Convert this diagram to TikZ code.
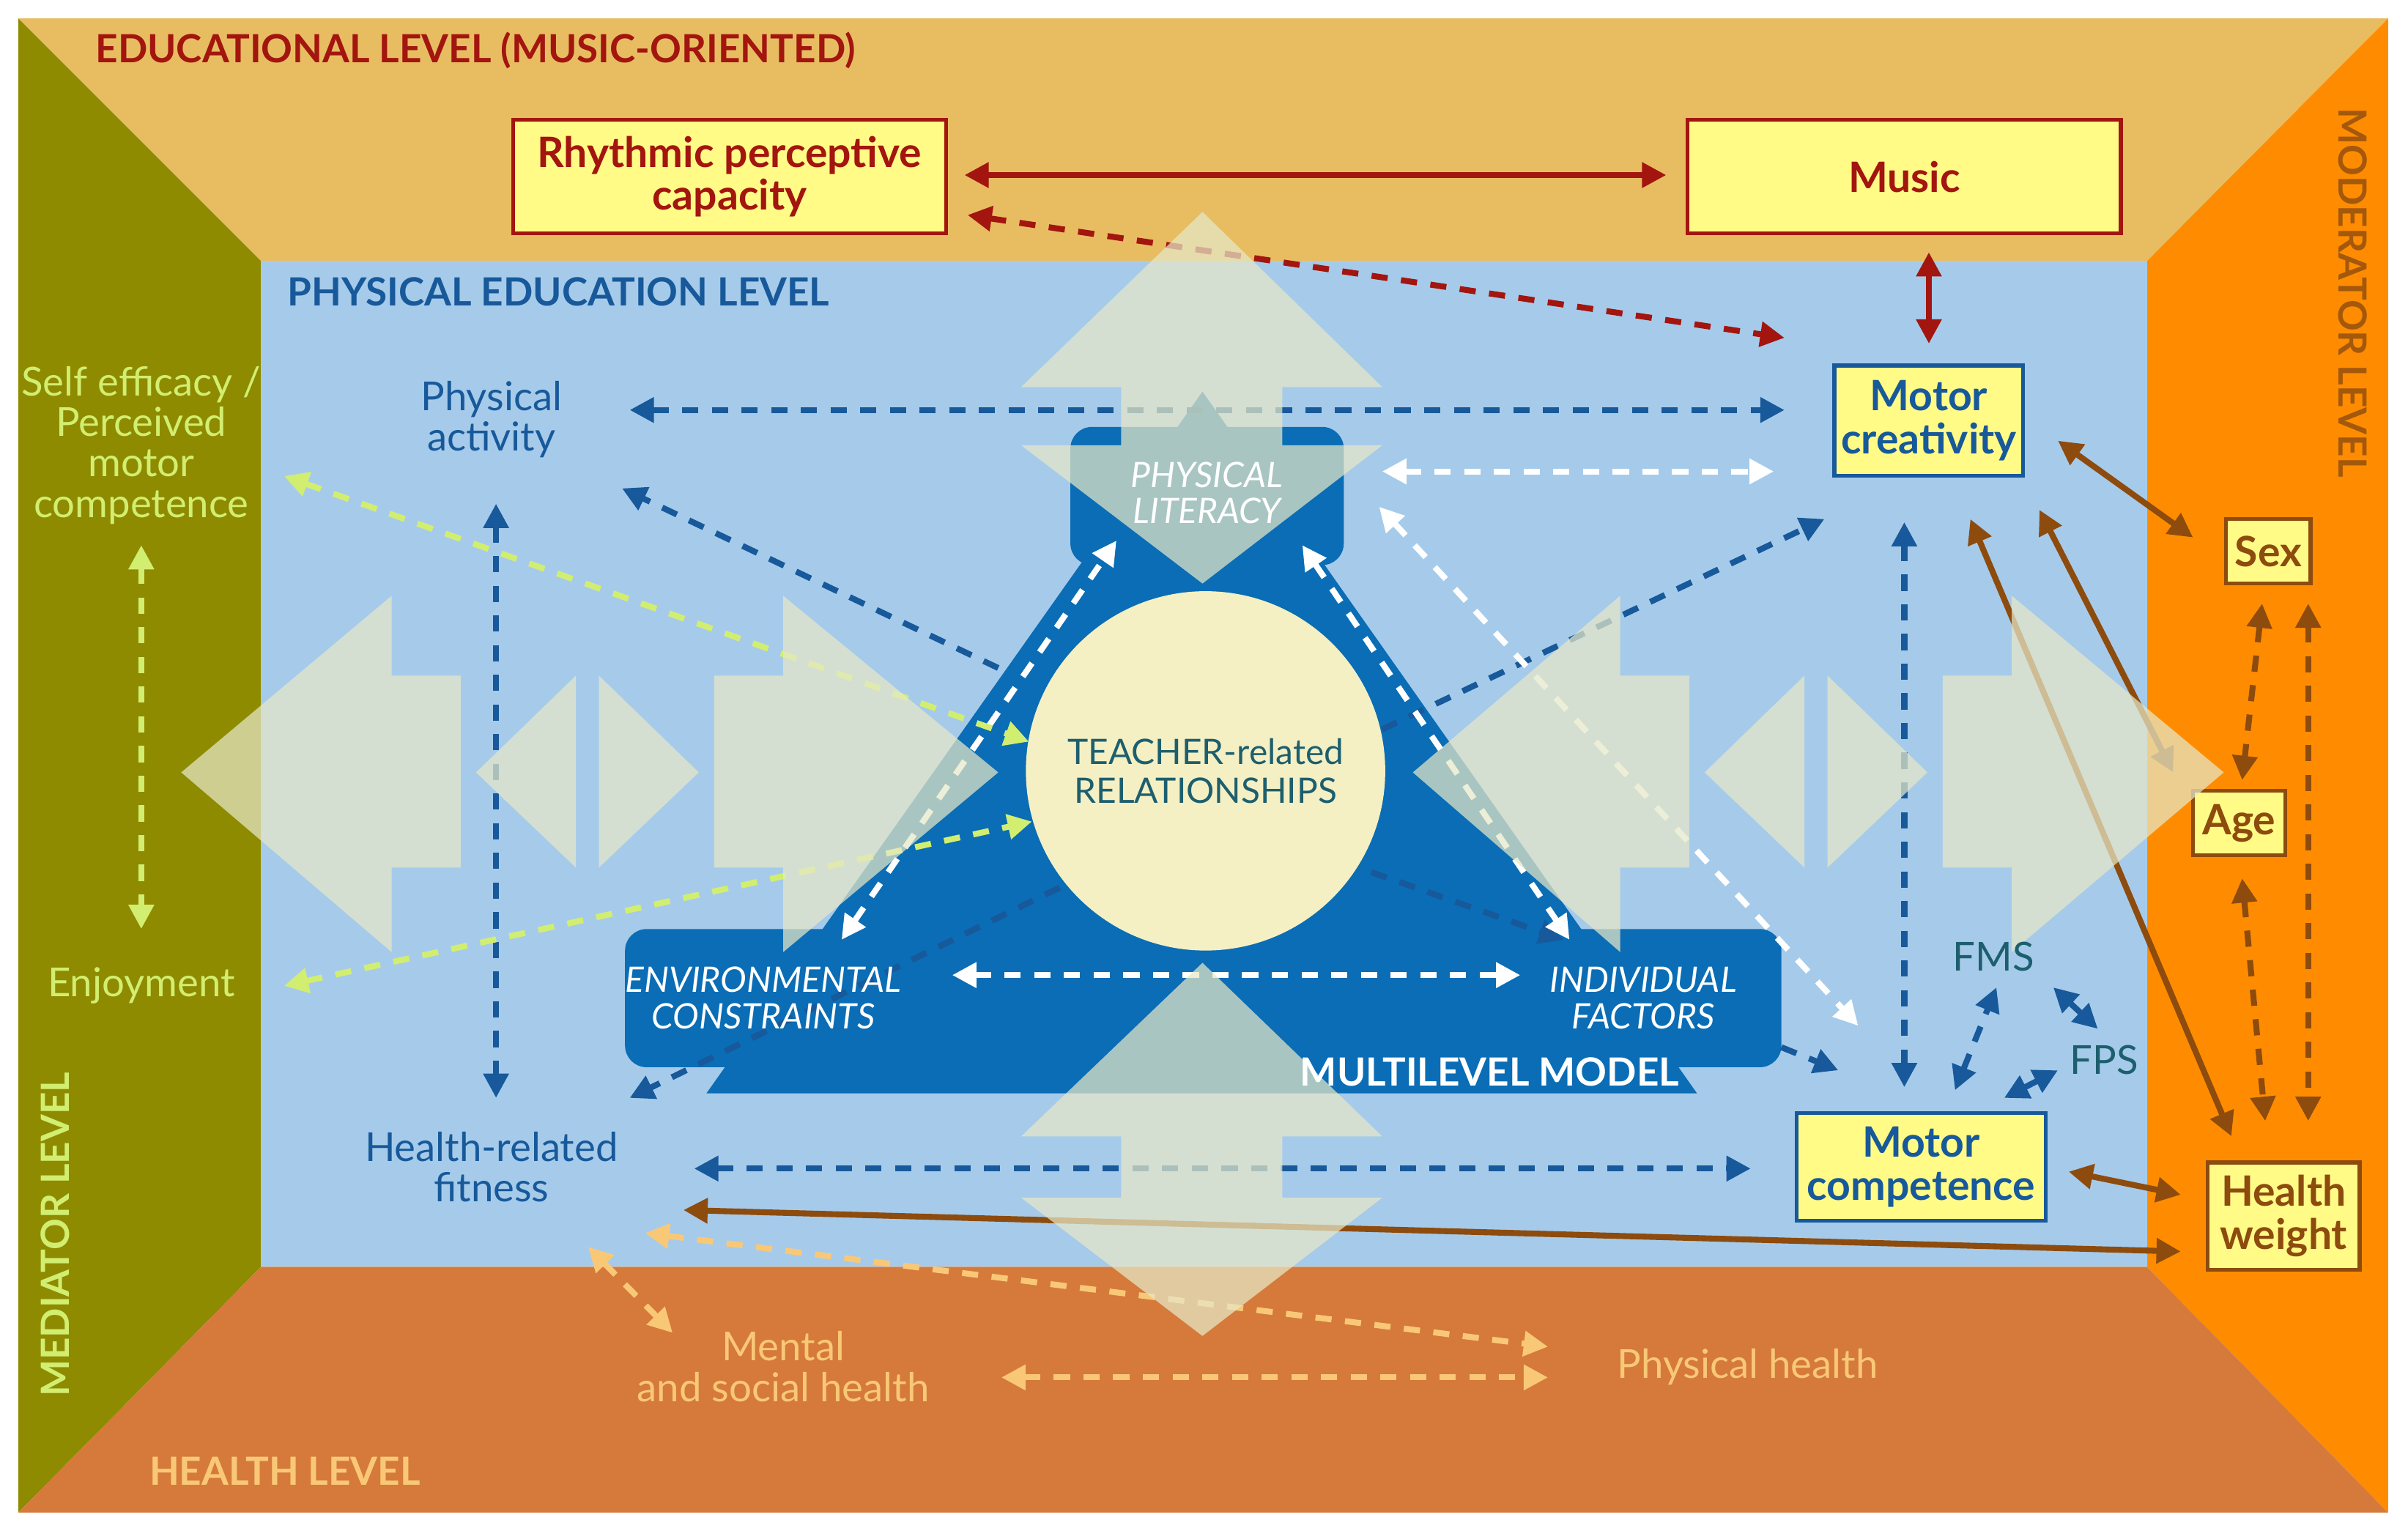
\documentclass[tikz,border=0pt]{standalone}
\usepackage{fontspec}
\setmainfont{Lato}
\usetikzlibrary{arrows.meta,positioning}
\definecolor{eduback}{HTML}{E8BD62}
\definecolor{medback}{HTML}{8E8B00}
\definecolor{modback}{HTML}{FF8C00}
\definecolor{healthback}{HTML}{D57A3A}
\definecolor{peback}{HTML}{A6CBEA}
\definecolor{modelblue}{HTML}{0A6DB5}
\definecolor{circfill}{HTML}{F4F0C4}
\definecolor{overfill}{HTML}{E6E8C8}
\definecolor{boxfill}{HTML}{FFFB86}
\definecolor{darkred}{HTML}{A3150F}
\definecolor{peblue}{HTML}{17599A}
\definecolor{brownline}{HTML}{8D4B0E}
\definecolor{lightgreen}{HTML}{D2EE70}
\definecolor{lightorange}{HTML}{F9C877}
\definecolor{tealtext}{HTML}{1D5F6E}

\begin{document}
\begin{tikzpicture}[x=0.02cm,y=-0.02cm,
    txt/.style={font=\fontsize{14.8}{15}\selectfont,align=center,inner sep=1pt},
    head/.style={font=\fontsize{14.4}{16}\selectfont\bfseries,inner sep=0pt},
    ital/.style={font=\fontsize{13}{13.5}\selectfont\itshape,align=center,text=white,inner sep=1pt},
    box/.style={draw,line width=1.4pt,fill=boxfill,align=center,font=\fontsize{15.5}{16}\selectfont\bfseries,inner sep=2pt},
    over/.style={fill=overfill,fill opacity=0.72,draw=none},
    tip/.style={-{Triangle[length=9pt,width=9pt]}},
    both/.style={{Triangle[length=9pt,width=9pt]}-{Triangle[length=9pt,width=9pt]}},
    dsh/.style={line width=2.2pt,dash pattern=on 6pt off 5pt},
    solid arrow/.style={line width=2.2pt,both}]
\useasboundingbox (0,0) rectangle (1568,995);
% level backgrounds
\fill[eduback] (12,12) -- (1555,12) -- (1398,170) -- (170,170) -- cycle;
\fill[medback] (12,12) -- (170,170) -- (170,825) -- (12,985) -- cycle;
\fill[modback] (1555,12) -- (1555,985) -- (1398,825) -- (1398,170) -- cycle;
\fill[healthback] (12,985) -- (1555,985) -- (1398,825) -- (170,825) -- cycle;
\fill[peback] (170,170) rectangle (1398,825);
% multilevel model
\fill[modelblue] (783,255) -- (1105,712) -- (460,712) -- cycle;
\fill[modelblue,rounded corners=8pt] (697,278) rectangle (875,368);
\fill[modelblue,rounded corners=8pt] (407,605) rectangle (1160,695);
\fill[circfill] (785,502) circle (117);
% boxes
\node[box,draw=darkred,text=darkred,minimum width=282*0.02cm,minimum height=74*0.02cm] (rpc) at (475,115) {Rhythmic perceptive\\capacity};
\node[box,draw=darkred,text=darkred,minimum width=282*0.02cm,minimum height=74*0.02cm] (music) at (1240,115) {Music};
\node[box,draw=peblue,text=peblue,minimum width=123*0.02cm,minimum height=72*0.02cm] (mcre) at (1256,274) {Motor\\creativity};
\node[box,draw=peblue,text=peblue,minimum width=162*0.02cm,minimum height=70*0.02cm] (mcomp) at (1251,760) {Motor\\competence};
\node[box,draw=brownline,text=brownline,minimum width=55*0.02cm,minimum height=42*0.02cm] (sex) at (1477,359) {Sex};
\node[box,draw=brownline,text=brownline,minimum width=60*0.02cm,minimum height=42*0.02cm] (age) at (1458,536) {Age};
\node[box,draw=brownline,text=brownline,minimum width=99*0.02cm,minimum height=70*0.02cm] (hw) at (1487,792) {Health\\weight};
% educational level arrows
\draw[darkred,solid arrow] (628,114) -- (1085,114);
\draw[darkred,dsh,both] (630,140) -- (1162,220);
\draw[darkred,solid arrow,shorten <=11*0.02cm,shorten >=13*0.02cm] (music.south -| mcre) -- (mcre.north);
% physical education level
\draw[peblue,dsh,both] (410,267) -- (1162,267);
\draw[peblue,dsh,both] (323,328) -- (323,715);
\draw[peblue,dsh,both] (452,761) -- (1140,761);
\draw[peblue,dsh,both] (1240,340) -- (1240,708);
\draw[peblue,dsh,tip] (650,435) -- (405,318);
\draw[peblue,dsh,tip] (900,475) -- (1188,338);
\draw[peblue,dsh,tip] (893,568) -- (1018,612);
\draw[peblue,dsh,tip] (690,578) -- (410,715);
\draw[peblue,dsh,tip] (1160,682) -- (1197,697);
\draw[peblue,dsh,both] (1273,710) -- (1300,643);
\draw[peblue,dsh,both] (1337,643) -- (1366,670);
\draw[peblue,dsh,both] (1305,715) -- (1340,697);
\draw[white,dsh,both] (900,307) -- (1155,307);
\draw[white,dsh,both] (898,330) -- (1210,668);
\draw[white,dsh,both] (548,612) -- (727,352);
\draw[white,dsh,both] (848,355) -- (1022,612);
\draw[white,dsh,both] (620,635) -- (990,635);
% mediator and moderator arrows
\draw[lightgreen,dsh,both] (185,310) -- (670,483);
\draw[lightgreen,dsh,both] (185,642) -- (672,535);
\draw[lightgreen,dsh,both] (92,355) -- (92,605);
\draw[brownline,solid arrow] (1340,287) -- (1428,350);
\draw[brownline,solid arrow] (1328,332) -- (1415,503);
\draw[brownline,solid arrow] (1283,338) -- (1453,740);
\draw[brownline,solid arrow] (1347,763) -- (1420,778);
\draw[brownline,solid arrow] (445,788) -- (1420,815);
\draw[brownline,dsh,both] (1473,393) -- (1460,508);
\draw[brownline,dsh,both] (1503,393) -- (1503,730);
\draw[brownline,dsh,both] (1460,572) -- (1475,730);
\draw[lightorange,dsh,both] (383,812) -- (438,868);
\draw[lightorange,dsh,both] (420,803) -- (1008,877);
\draw[lightorange,dsh,both] (652,897) -- (1008,897);
% translucent arrows
\fill[over] (118,503) -- (255,388) -- (255,440) -- (300,440) -- (300,565) -- (255,565) -- (255,620) -- cycle;
\fill[over] (310,503) -- (375,440) -- (375,565) -- cycle;
\fill[over] (390,440) -- (455,503) -- (390,565) -- cycle;
\fill[over] (465,440) -- (510,440) -- (510,388) -- (650,503) -- (510,620) -- (510,565) -- (465,565) -- cycle;
\fill[over] (920,503) -- (1055,388) -- (1055,440) -- (1100,440) -- (1100,565) -- (1055,565) -- (1055,620) -- cycle;
\fill[over] (1110,503) -- (1175,440) -- (1175,565) -- cycle;
\fill[over] (1190,440) -- (1255,503) -- (1190,565) -- cycle;
\fill[over] (1265,440) -- (1310,440) -- (1310,388) -- (1448,503) -- (1310,620) -- (1310,565) -- (1265,565) -- cycle;
\fill[over] (783,138) -- (900,252) -- (835,252) -- (835,290) -- (900,290) -- (783,380) -- (665,290) -- (730,290) -- (730,252) -- (665,252) -- cycle;
\fill[over] (783,627) -- (900,740) -- (835,740) -- (835,780) -- (900,780) -- (783,870) -- (665,780) -- (730,780) -- (730,740) -- (665,740) -- cycle;
% texts
\node[head,text=darkred,anchor=west] (edu) at (62,33) {EDUCATIONAL LEVEL (MUSIC-ORIENTED)};
\node[head,text=peblue,anchor=west] (pel) at (187,190) {PHYSICAL EDUCATION LEVEL};
\node[head,text=brownline!80!modback,rotate=-90,anchor=west] (mod) at (1532,70) {MODERATOR LEVEL};
\node[head,text=lightgreen,rotate=90,anchor=west] (med) at (36,910) {MEDIATOR LEVEL};
\node[head,text=lightorange,anchor=west] (hl) at (97,958) {HEALTH LEVEL};
\node[txt,text=lightgreen] (self) at (92,290) {Self efficacy /\\Perceived\\motor\\competence};
\node[txt,text=lightgreen] (enj) at (92,642) {Enjoyment};
\node[txt,text=peblue] (pa) at (320,273) {Physical\\activity};
\node[txt,text=peblue] (hrf) at (320,760) {Health-related\\fitness};
\node[txt,text=lightorange] (msh) at (510,890) {Mental\\and social health};
\node[txt,text=lightorange] (ph) at (1138,890) {Physical health};
\node[txt,text=tealtext] (fms) at (1298,623) {FMS};
\node[txt,text=tealtext] (fps) at (1370,690) {FPS};
\node[txt,text=tealtext,font=\fontsize{13}{14.5}\selectfont] (teacher) at (785,502) {TEACHER-related\\RELATIONSHIPS};
\node[ital] (pl) at (786,321) {PHYSICAL\\LITERACY};
\node[ital] (ec) at (497,650) {ENVIRONMENTAL\\CONSTRAINTS};
\node[ital] (if) at (1070,650) {INDIVIDUAL\\FACTORS};
\node[head,text=white] (mm) at (970,698) {MULTILEVEL MODEL};
\end{tikzpicture}
\end{document}
